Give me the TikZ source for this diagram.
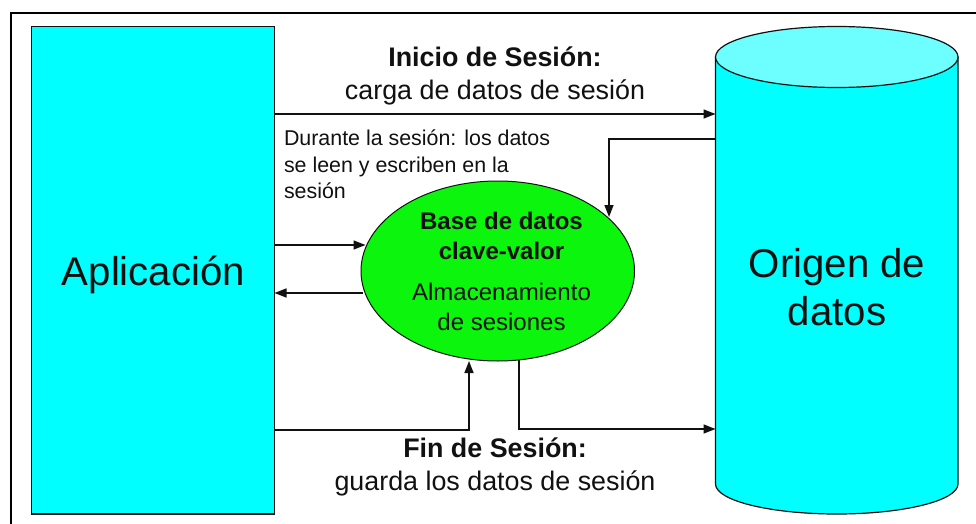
\documentclass[tikz,border=0pt]{standalone}
\usepackage{fontspec}
\setmainfont{Liberation Sans}
\usetikzlibrary{arrows.meta,shapes.geometric}
\definecolor{boxcyan}{HTML}{00FFFF}
\definecolor{topcyan}{HTML}{6DFFFF}
\definecolor{blobgreen}{HTML}{0CF50C}
\definecolor{ink}{HTML}{111111}
\tikzset{
  flow/.style={draw=ink,line width=1.5pt,-{Triangle[length=12pt,width=9pt]}},
  txt/.style={inner sep=0pt,outer sep=0pt,text=ink,align=center},
  lbl/.style={txt,font=\fontsize{26.85}{33.5}\selectfont},
  inner/.style={txt,font=\fontsize{24}{29.5}\selectfont},
  big/.style={txt,font=\fontsize{40.2}{48}\selectfont},
}
\begin{document}
\begin{tikzpicture}[x=1pt,y=-1pt]
\useasboundingbox (0,0) rectangle (976,524);
\fill[white] (0,0) rectangle (976,524);
\draw[black,line width=2pt] (10.5,524) -- (10.5,13) -- (976,13);
\node[draw=ink,line width=1.2pt,fill=boxcyan,minimum width=243pt,minimum height=487.5pt,inner sep=0pt,outer sep=0pt,big] (app) at (153,270.25) {};
\node[minimum width=242.5pt,minimum height=487.5pt,inner sep=0pt,outer sep=0pt] (cyl) at (836.75,270.25) {};
\draw[draw=ink,line width=1.2pt,fill=boxcyan] (cyl.west |- 0,57) -- (cyl.west |- 0,484)
  arc[start angle=180,end angle=360,x radius=121.25pt,y radius=30pt] -- (cyl.east |- 0,57) -- cycle;
\draw[draw=ink,line width=1.2pt,fill=topcyan] (cyl.west |- 0,57)
  arc[start angle=180,end angle=540,x radius=121.25pt,y radius=30.5pt] -- cycle;
\node[draw=ink,line width=1pt,ellipse,fill=blobgreen,minimum width=273.5pt,minimum height=180pt,inner sep=0pt,outer sep=0pt] (store) at (497.75,271) {};
\coordinate (a1) at (app.east |- 0,114);
\coordinate (c1) at (cyl.west |- 0,114);
\coordinate (c2) at (cyl.west |- 0,139);
\coordinate (c3) at (cyl.west |- 0,429);
\coordinate (a2) at (app.east |- 0,245);
\coordinate (a3) at (app.east |- 0,293);
\coordinate (a4) at (app.east |- 0,430);
\coordinate (s1) at (365.5,245);
\coordinate (s2) at (363,293);
\coordinate (s3) at (609,217);
\coordinate (s4) at (469,361);
\coordinate (s5) at (519,360);
\draw[flow] (a1) -- (c1);
\draw[flow] (c2) -- (c2 -| s3) -- (s3);
\draw[flow] (a2) -- (s1);
\draw[flow] (s2) -- (a3);
\draw[flow] (a4) -- (a4 -| s4) -- (s4);
\draw[flow] (s5) -- (s5 |- c3) -- (c3);
\node[lbl] (top) at (495,76) {\textbf{Inicio de Sesión:}\\carga de datos de sesión};
\node[lbl] (bot) at (495,467) {\textbf{Fin de Sesión:}\\guarda los datos de sesión};
\node[txt,align=left,font=\fontsize{21.4}{26.5}\selectfont,anchor=north west] (during) at (284,130) {Durante la sesión: los datos\\se leen y escriben en la\\sesión};
\node[inner] (kv) at (501.5,236) {\textbf{Base de datos}\\\textbf{clave-valor}};
\node[inner] (ses) at (501.5,307) {Almacenamiento\\de sesiones};
\node[big] (applbl) at (153.5,275) {Aplicación};
\node[big] (orig) at (837,287) {Origen de\\datos};
\end{tikzpicture}
\end{document}
